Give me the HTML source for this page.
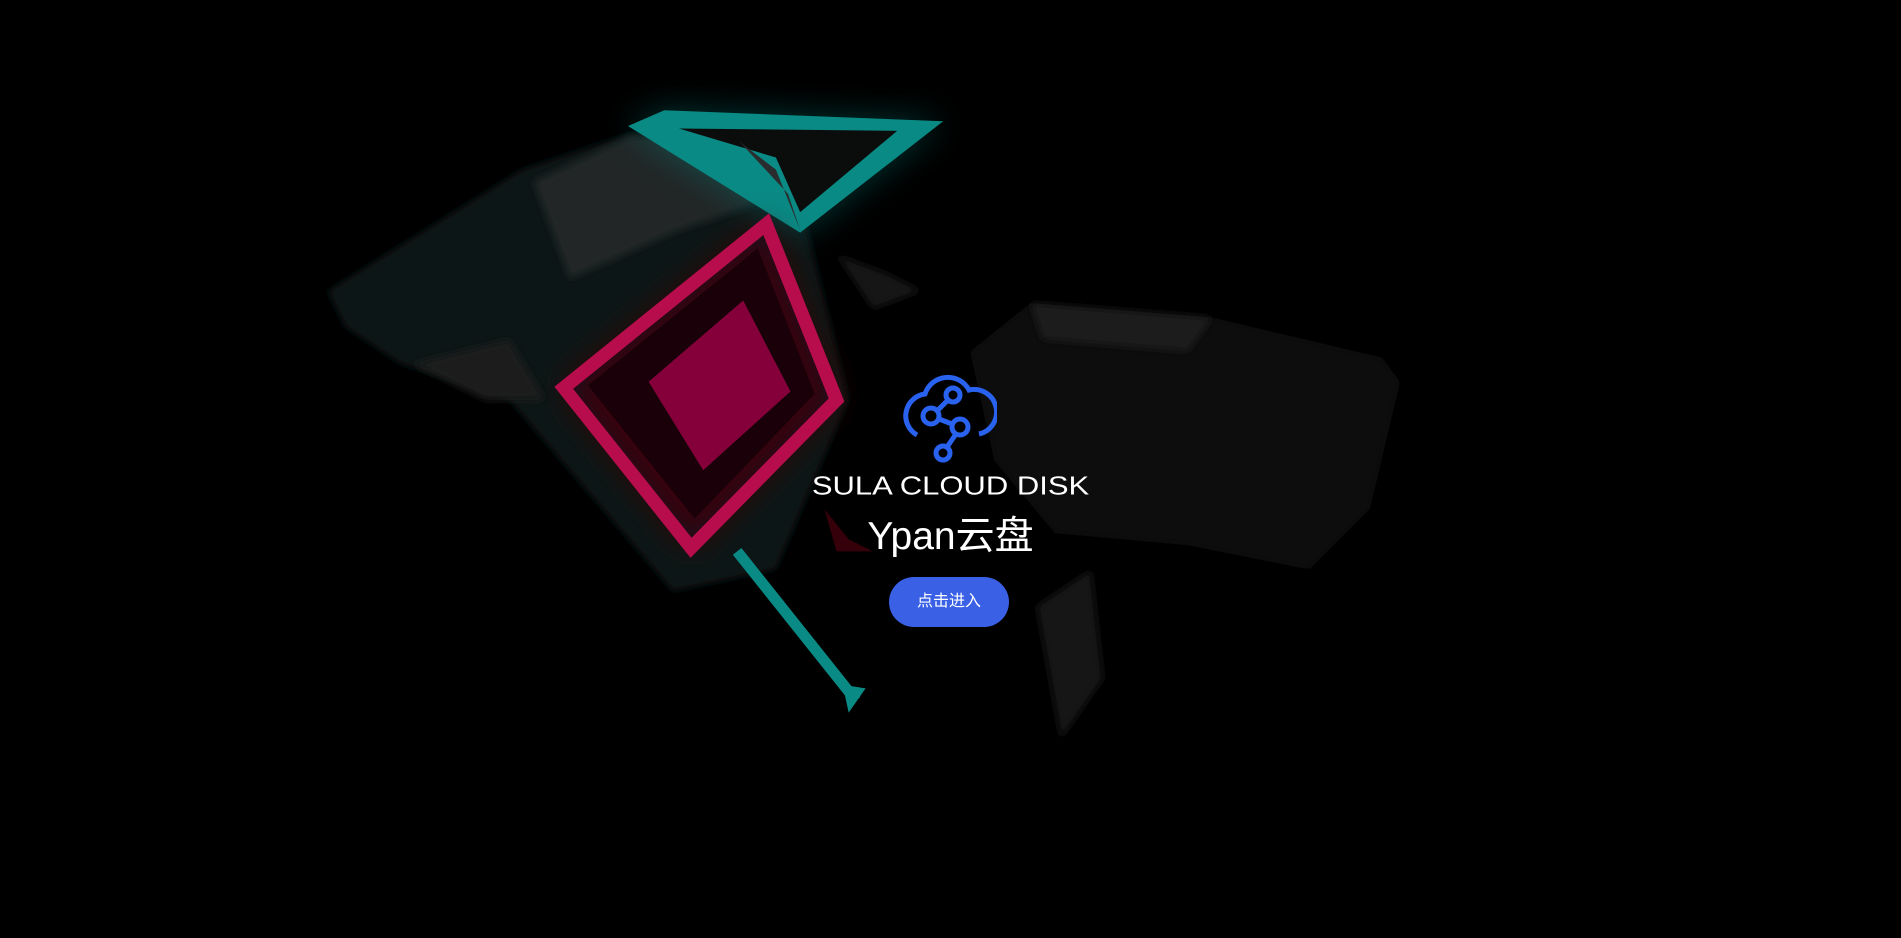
<!DOCTYPE html>
<html><head><meta charset="utf-8"><style>
html,body{margin:0;padding:0;background:#000;width:1901px;height:938px;overflow:hidden}
svg.bg{position:absolute;left:0;top:0}
.c{position:absolute;left:0;width:1901px;text-align:center;color:#fff}
</style></head><body>
<svg class="bg" width="1901" height="938" viewBox="0 0 1568 774" preserveAspectRatio="none">
<defs>
<filter id="b" x="-50%" y="-50%" width="200%" height="200%"><feGaussianBlur stdDeviation="14"/></filter>
<filter id="s" x="-20%" y="-20%" width="140%" height="140%"><feGaussianBlur stdDeviation="3"/></filter>
</defs>
<polygon points="270,240 430,140 520,110 610,115 665,185 700,330 640,470 555,488 420,330 330,300 285,270" fill="#111313" filter="url(#s)"/>
<polygon points="440,150 520,112 605,117 650,160 560,190 470,230" fill="#222525" filter="url(#s)"/>
<polygon points="340,300 420,280 450,330 400,330" fill="#1b1e1e" filter="url(#s)"/>
<polygon points="800,290 850,250 1000,262 1140,295 1155,315 1130,420 1080,470 980,450 870,440 820,380" fill="#0a0b0b" filter="url(#s)"/>
<polygon points="850,250 1000,262 980,290 860,280" fill="#1a1c1c" filter="url(#s)"/>
<polygon points="855,500 900,470 910,560 875,610" fill="#121414" filter="url(#s)"/>
<polygon points="690,210 730,225 760,240 720,255" fill="#151717" filter="url(#s)"/>
<polygon points="518,104 548,91 778,100 660,192" fill="#098a86" filter="url(#b)" opacity="0.4"/>
<polygon points="518,104 548,91 778,100 660,192" fill="#0a8a85"/>
<polygon points="560,106 740,108 660,175 640,130" fill="#0b0d0d"/>
<polygon points="610,117 650,160 660,190 640,140" fill="#2a2d2d"/>
<line x1="608" y1="455" x2="706" y2="578" stroke="#0a8a85" stroke-width="9"/>
<polygon points="695,565 714,568 700,588" fill="#0a8a85"/>
<polygon points="632,185 690,330 570,452 465,320" fill="#3a0010" filter="url(#b)"/>
<polygon points="632,185 690,330 570,452 465,320" fill="none" stroke="#b80d4c" stroke-width="11"/>
<polygon points="625,205 672,325 573,428 485,318" fill="#1a0008"/>
<polygon points="613,248 652,323 580,388 535,315" fill="#85003a"/>
<polygon points="680,420 700,445 720,455 690,455" fill="#5a0010" opacity="0.6"/>
</svg>
<svg style="position:absolute;left:903px;top:370px" width="94" height="94" viewBox="0 0 94 94" fill="none" stroke="#2a62f0" stroke-width="5">
<path d="M14 65 A22 22 0 0 1 22 24 A24 24 0 0 1 66 20 A22 22 0 0 1 76 64"/>
<circle cx="50" cy="25" r="7"/>
<circle cx="28" cy="46" r="8"/>
<circle cx="57" cy="57" r="8"/>
<circle cx="40" cy="83" r="7"/>
<line x1="34" y1="41" x2="45" y2="30"/>
<line x1="36" y1="49" x2="49" y2="54"/>
<line x1="53" y1="64" x2="44" y2="77"/>
</svg>
<div class="c" style="top:468px;font:400 31px 'Liberation Sans',sans-serif;letter-spacing:0px;transform:scaleY(0.85)">SULA CLOUD DISK</div>
<div class="c" style="top:505px;font:400 39px 'Liberation Sans','Noto Sans CJK SC',sans-serif">Ypan云盘</div>
<div style="position:absolute;left:889px;top:577px;width:120px;height:50px;border-radius:25px;background:#3a60e6;color:#fff;font:16px 'Liberation Sans','Noto Sans CJK SC',sans-serif;line-height:50px;text-align:center">点击进入</div>
</body></html>
